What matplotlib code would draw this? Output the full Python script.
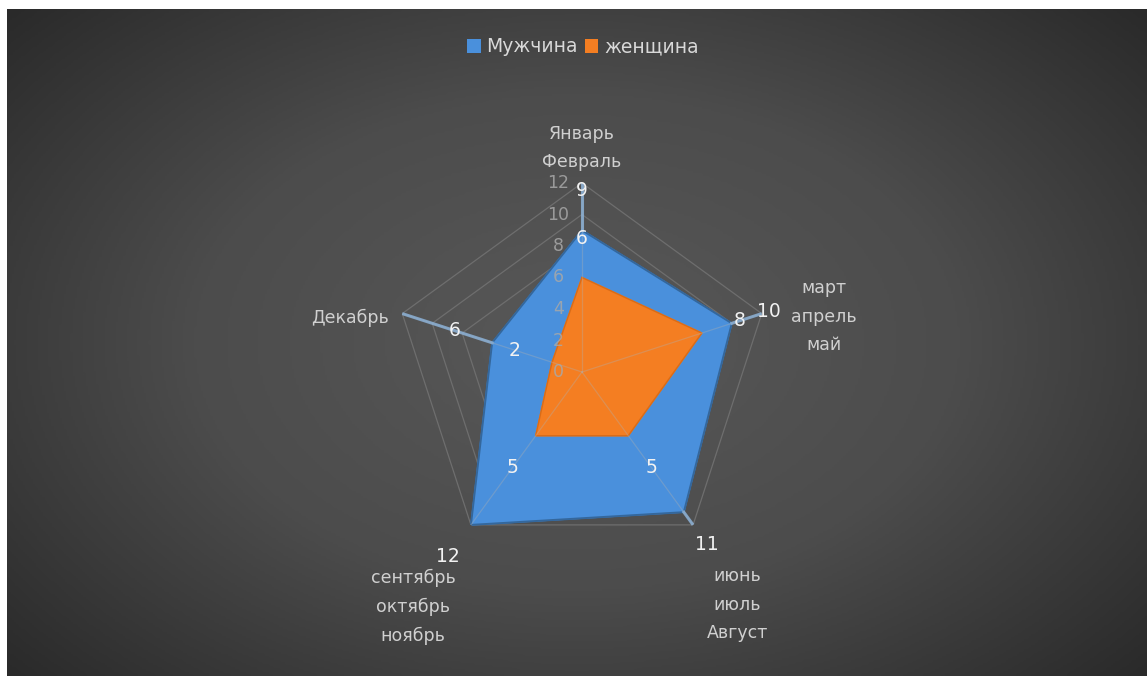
import numpy as np
import matplotlib
matplotlib.use('Agg')
import matplotlib.pyplot as plt
from matplotlib.patches import Patch
from matplotlib.colors import LinearSegmentedColormap

# Данные диаграммы
categories = ['Январь\nФевраль', 'март\nапрель\nмай', 'июнь\nиюль\nАвгуст',
              'сентябрь\nоктябрь\nноябрь', 'Декабрь']
men = [9, 10, 11, 12, 6]
women = [6, 8, 5, 5, 2]
r_ticks = [0, 2, 4, 6, 8, 10, 12]
series_names = ['Мужчина', 'женщина']

plt.rcParams['font.family'] = ['DejaVu Sans']

W, H = 1147, 676
fig = plt.figure(figsize=(W / 100, H / 100), dpi=100)
fig.patch.set_facecolor('white')

# фон: тёмно-серый радиальный градиент
bg = fig.add_axes([7 / W, 0, 1 - 7 / W, 1 - 9 / H])
yy, xx = np.mgrid[-1:1:300j, -1:1:500j]
dist = np.sqrt(xx ** 2 + (yy * 0.9) ** 2) / np.sqrt(1 + 0.81)
cmap_bg = LinearSegmentedColormap.from_list('bg', ['#585858', '#4c4c4c', '#2a2a2a'])
bg.imshow(dist, cmap=cmap_bg, aspect='auto', vmin=0, vmax=1)
bg.axis('off')

# полярные оси: центр (582, 372), радиус 12 = 189 px
cx, cy, rad = 582, 372, 189
ax = fig.add_axes([(cx - rad) / W, (H - cy - rad) / H, 2 * rad / W, 2 * rad / H],
                  projection='polar')
ax.set_facecolor('none')
ax.set_theta_offset(np.pi / 2)
ax.set_theta_direction(-1)
ax.set_ylim(0, 12)
ax.grid(False)
ax.spines['polar'].set_visible(False)
ax.set_xticks([])
ax.set_yticks([])

n = len(categories)
theta = np.linspace(0, 2 * np.pi, n, endpoint=False)
theta_c = np.append(theta, theta[0])

# сетка-пятиугольники
for r in r_ticks[1:]:
    ax.plot(theta_c, [r] * (n + 1), color='#6e6e6e', lw=0.9, zorder=1)

men_c = men + men[:1]
women_c = women + women[:1]

ax.fill(theta_c, men_c, color='#4a90dc', zorder=2)
ax.plot(theta_c, men_c, color='#34679c', lw=1.4, zorder=2)
ax.fill(theta_c, women_c, color='#f47e22', zorder=3)
ax.plot(theta_c, women_c, color='#d96c18', lw=1.0, zorder=3)

# оси-лучи
for t in theta:
    ax.plot([t, t], [0, 12], color='#b0b0b0', lw=0.9, alpha=0.35, zorder=4)

# выноски (от значения до края)
for t, v in zip(theta, men):
    if v < 12:
        ax.plot([t, t], [v, 12], color='#8cb1d6', lw=2.2, alpha=0.85, zorder=4)

# подписи шкалы
for t in r_ticks:
    ax.annotate(str(t), xy=(0, t), xytext=(-17, 0), textcoords='offset points',
                ha='center', va='center', fontsize=12.5, color='#a8a8a8',
                alpha=0.85, zorder=5, annotation_clip=False)

# подписи данных
for t, v in zip(theta, men):
    ax.text(t, v + 2.5, str(v), ha='center', va='center', fontsize=13.5,
            color='#f2f2f2', zorder=6, clip_on=False)
for t, v in zip(theta, women):
    ax.text(t, v + 2.5, str(v), ha='center', va='center', fontsize=13.5,
            color='#f2f2f2', zorder=6, clip_on=False)

# подписи категорий: смещение от конца оси (в пикселях)
label_off = [(0, 35), (62, -3), (44, -80), (-58, -82), (-52, -4)]
for t, lab, (dx, dy) in zip(theta, categories, label_off):
    ax.annotate(lab, xy=(t, 12), xytext=(dx * 0.72, dy * 0.72),
                textcoords='offset points', ha='center', va='center',
                fontsize=12.5, color='#d0d0d0', linespacing=1.75, zorder=6,
                annotation_clip=False)

handles = [Patch(facecolor='#4a90dc', label=series_names[0]),
           Patch(facecolor='#f47e22', label=series_names[1])]
leg = fig.legend(handles=handles, loc='center', ncol=2, frameon=False,
                 bbox_to_anchor=(583 / W, 1 - 47 / H), fontsize=13.5,
                 handlelength=0.7, handleheight=0.7, handletextpad=0.3,
                 columnspacing=0.4)
for txt in leg.get_texts():
    txt.set_color('#d9d9d9')

fig.savefig('out.png', dpi=100)
